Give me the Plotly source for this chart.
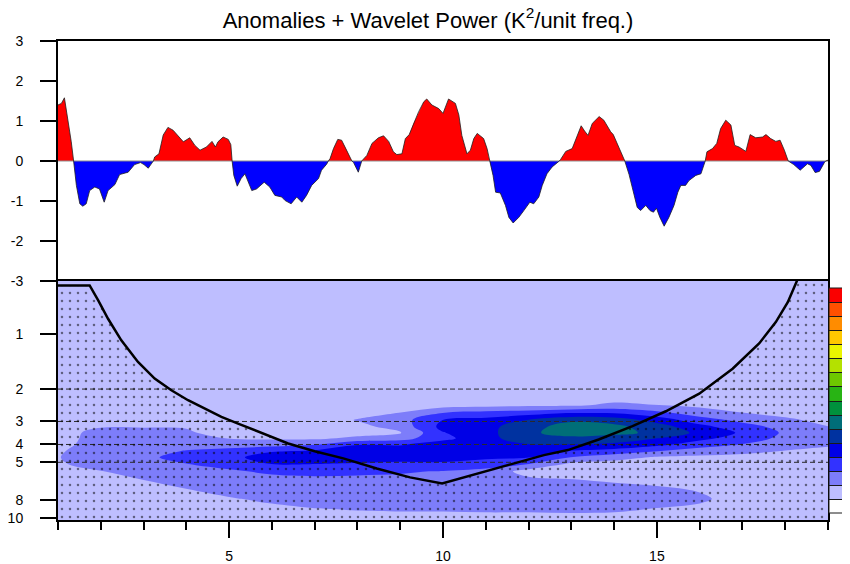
import plotly.graph_objects as go

FONT = "Liberation Sans, Arial, Helvetica, sans-serif"

# ---------------- top panel: anomalies ----------------
anom_t = [1.0, 1.08, 1.15, 1.23, 1.31, 1.365, 1.43, 1.51, 1.58, 1.66, 1.74, 1.86, 1.97, 2.08, 2.17,
          2.33, 2.44, 2.64, 2.79, 2.93, 3.01, 3.11, 3.2, 3.23, 3.26, 3.36, 3.46, 3.57, 3.69, 3.81,
          3.93, 4.08, 4.2, 4.32, 4.47, 4.6, 4.68, 4.74, 4.86, 4.98, 5.04, 5.07, 5.11, 5.19, 5.28,
          5.37, 5.53, 5.64, 5.82, 5.95, 6.07, 6.23, 6.31, 6.45, 6.58, 6.7, 6.81, 6.93, 7.09, 7.16,
          7.28, 7.32, 7.36, 7.44, 7.54, 7.63, 7.73, 7.83, 7.87, 7.91, 8.02, 8.1, 8.22, 8.34, 8.49,
          8.61, 8.73, 8.84, 8.92, 9.04, 9.12, 9.21, 9.31, 9.43, 9.55, 9.62, 9.74, 9.9, 10.0, 10.13,
          10.29, 10.37, 10.44, 10.56, 10.64, 10.72, 10.8, 10.95, 11.03, 11.09, 11.17, 11.23, 11.34,
          11.46, 11.54, 11.64, 11.77, 11.89, 12.03, 12.12, 12.24, 12.32, 12.43, 12.55, 12.69, 12.72,
          12.75, 12.87, 13.02, 13.12, 13.23, 13.31, 13.39, 13.49, 13.65, 13.76, 13.92, 13.98, 14.07,
          14.19, 14.25, 14.35, 14.45, 14.54, 14.62, 14.74, 14.84, 14.92, 14.99, 15.07, 15.17, 15.28,
          15.4, 15.49, 15.56, 15.67, 15.75, 15.91, 16.03, 16.1, 16.13, 16.17, 16.3, 16.4, 16.49,
          16.61, 16.73, 16.82, 16.92, 17.08, 17.18, 17.31, 17.47, 17.55, 17.66, 17.78, 17.88, 17.98,
          18.07, 18.2, 18.35, 18.52, 18.6, 18.7, 18.8, 18.92, 18.95, 19.0]
anom_v = [1.40, 1.44, 1.58, 1.06, 0.48, 0.0, -0.61, -1.07, -1.13, -1.07, -0.74, -0.65, -0.70, -1.03, -0.74,
          -0.59, -0.34, -0.28, -0.09, -0.04, -0.09, -0.18, -0.04, 0.0, 0.10, 0.18, 0.65, 0.84, 0.77, 0.63,
          0.48, 0.58, 0.39, 0.27, 0.35, 0.49, 0.35, 0.48, 0.60, 0.54, 0.41, 0.0, -0.36, -0.63, -0.44,
          -0.32, -0.74, -0.70, -0.53, -0.65, -0.86, -0.90, -0.99, -1.07, -0.90, -1.03, -0.86, -0.61, -0.44, -0.23,
          -0.08, 0.0, 0.06, 0.31, 0.54, 0.52, 0.31, 0.06, 0.0, -0.04, -0.28, 0.0, 0.14, 0.44, 0.58,
          0.63, 0.49, 0.23, 0.16, 0.18, 0.56, 0.66, 0.94, 1.23, 1.48, 1.55, 1.40, 1.31, 1.19, 1.55,
          1.44, 1.15, 0.64, 0.18, 0.27, 0.56, 0.69, 0.56, 0.31, 0.0, -0.36, -0.78, -0.80,
          -1.11, -1.41, -1.55, -1.41, -1.24, -1.03, -1.07, -0.90, -0.61, -0.32, -0.15, -0.04, 0.0,
          0.04, 0.24, 0.31, 0.60, 0.88, 0.75, 0.64, 0.94, 1.11, 1.02, 0.73, 0.66, 0.44,
          0.18, 0.0, -0.34, -0.78, -1.16, -1.24, -1.11, -1.24, -1.28, -1.18, -1.41, -1.63, -1.41,
          -1.11, -0.78, -0.61, -0.61, -0.49, -0.36, -0.32, -0.07, 0.0, 0.23, 0.31, 0.44, 0.81,
          1.02, 0.90, 0.39, 0.35, 0.24, 0.66, 0.58, 0.60, 0.66, 0.56, 0.49, 0.52, 0.27,
          0.0, -0.09, -0.23, -0.07, -0.11, -0.29, -0.26, -0.03, 0.0, 0.02]
anom_ticks = [-3, -2, -1, 0, 1, 2, 3]
zero_level = 0

# ---------------- bottom panel: wavelet power ----------------
times = [1, 2, 3, 4, 5, 6, 7, 8, 9, 10, 11, 12, 13, 14, 15, 16, 17, 18, 19]
periods = [0.5, 1.0, 1.6, 2.2, 2.45, 2.7, 2.95, 3.2, 3.45, 3.7, 4.0, 4.35, 4.7, 5.1, 5.6,
           6.2, 7.0, 7.9, 9.0, 10.5]
# one list per time (values listed from the shortest to the longest period)
power_by_time = [
    [1.5, 1.5, 1.5, 1.5, 1.5, 1.5, 1.5, 1.5, 1.5, 1.5, 1.6, 1.85, 1.95, 1.85, 1.6, 1.5, 1.5, 1.5, 1.5, 1.5],
    [1.5, 1.5, 1.5, 1.5, 1.5, 1.5, 1.5, 1.9, 2.4, 2.5, 2.6, 2.7, 2.7, 2.5, 1.95, 1.6, 1.5, 1.5, 1.5, 1.5],
    [1.5, 1.5, 1.5, 1.5, 1.5, 1.5, 1.5, 1.9, 2.5, 2.6, 2.65, 2.7, 2.7, 2.65, 2.5, 2.02, 1.6, 1.5, 1.5, 1.5],
    [1.5, 1.5, 1.5, 1.5, 1.5, 1.5, 1.5, 1.95, 2.1, 2.3, 2.7, 3.05, 3.5, 2.98, 2.7, 2.5, 1.98, 1.6, 1.5, 1.5],
    [1.5, 1.5, 1.5, 1.5, 1.5, 1.5, 1.5, 1.5, 1.7, 1.97, 2.5, 3.4, 3.65, 3.4, 2.85, 2.6, 2.4, 1.9, 1.5, 1.5],
    [1.5, 1.5, 1.5, 1.5, 1.5, 1.5, 1.5, 1.5, 1.6, 1.85, 2.6, 3.9, 4.6, 4.02, 3.2, 2.7, 2.5, 2.25, 1.7, 1.5],
    [1.5, 1.5, 1.5, 1.5, 1.5, 1.5, 1.5, 1.5, 1.5, 1.8, 2.9, 4.2, 4.7, 4.02, 3.3, 2.8, 2.6, 2.45, 1.95, 1.5],
    [1.5, 1.5, 1.5, 1.5, 1.5, 1.7, 2.05, 1.7, 1.6, 2.2, 3.95, 4.6, 4.7, 3.9, 3.2, 2.8, 2.6, 2.55, 2.05, 1.55],
    [1.5, 1.5, 1.5, 1.5, 1.6, 2.02, 2.6, 2.4, 1.9, 2.6, 3.9, 4.6, 4.6, 3.7, 3.1, 2.8, 2.6, 2.6, 2.1, 1.55],
    [1.5, 1.5, 1.5, 1.5, 1.6, 3.02, 4.02, 4.3, 3.95, 3.7, 4.5, 4.8, 4.5, 3.8, 2.95, 2.7, 2.6, 2.6, 2.1, 1.55],
    [1.5, 1.5, 1.5, 1.5, 1.7, 3.4, 4.3, 4.7, 4.7, 4.7, 4.7, 4.5, 4.2, 3.5, 2.7, 2.6, 2.6, 2.6, 2.15, 1.55],
    [1.5, 1.5, 1.5, 1.5, 1.85, 3.6, 5.05, 5.6, 5.75, 5.55, 4.98, 4.5, 4.02, 3.02, 1.6, 2.2, 2.5, 2.6, 2.15, 1.55],
    [1.5, 1.5, 1.5, 1.5, 1.85, 4.02, 5.8, 6.5, 6.6, 5.7, 4.98, 3.9, 2.95, 1.8, 1.5, 2.02, 2.5, 2.6, 2.2, 1.55],
    [1.5, 1.5, 1.5, 1.6, 2.2, 3.95, 5.6, 6.25, 6.25, 5.6, 4.8, 3.6, 2.4, 1.6, 1.5, 1.8, 2.4, 2.55, 2.15, 1.55],
    [1.5, 1.5, 1.5, 1.6, 2.02, 3.3, 4.6, 5.5, 5.8, 5.02, 4.3, 3.02, 1.9, 1.6, 1.5, 1.6, 2.2, 2.4, 1.95, 1.5],
    [1.5, 1.5, 1.5, 1.5, 1.8, 2.5, 3.45, 4.3, 4.75, 4.3, 3.45, 2.5, 1.8, 1.5, 1.5, 1.5, 1.9, 2.2, 1.75, 1.5],
    [1.5, 1.5, 1.5, 1.5, 1.6, 2.02, 2.75, 3.4, 3.85, 3.5, 2.95, 2.25, 1.7, 1.5, 1.5, 1.5, 1.5, 1.5, 1.5, 1.5],
    [1.5, 1.5, 1.5, 1.5, 1.5, 1.7, 2.2, 2.65, 2.85, 2.75, 2.4, 1.95, 1.6, 1.5, 1.5, 1.5, 1.5, 1.5, 1.5, 1.5],
    [1.5, 1.5, 1.5, 1.5, 1.5, 1.5, 1.7, 2.02, 2.4, 2.45, 2.15, 1.7, 1.5, 1.5, 1.5, 1.5, 1.5, 1.5, 1.5, 1.5],
]
# cone of influence
coi_t = [1.0, 1.74, 1.94, 2.17, 2.48, 2.87, 3.26, 3.65, 4.04, 4.43, 4.82, 5.21, 5.6, 5.99, 6.38, 7.0,
         7.67, 8.45, 9.23, 9.98, 10.8, 11.58, 12.36, 12.92, 13.64, 14.43, 15.21, 15.99, 16.77, 17.39,
         17.78, 18.06, 18.21, 18.3]
coi_p = [0.547, 0.547, 0.659, 0.83, 1.087, 1.425, 1.755, 2.03, 2.3, 2.55, 2.83, 3.08, 3.35, 3.64, 3.95,
         4.35, 4.76, 5.4, 6.04, 6.51, 5.74, 5.13, 4.57, 4.29, 3.76, 3.18, 2.64, 2.12, 1.55, 1.13,
         0.865, 0.674, 0.559, 0.5]
ref_periods = [2, 3, 4, 5]
period_ticks = [1, 2, 3, 4, 5, 8, 10]
time_ticks = [5, 10, 15]

level_start, level_end, level_step = 1, 15, 1
level_colors = ["#FFFFFF", "#BEBEFF", "#7D7DFA", "#3232FF", "#0000E6", "#0032A0", "#006E78",
                "#00913C", "#28B414", "#6EC800", "#B4E100", "#EBF500", "#FFC800", "#FF8C00",
                "#FF5000", "#FA0000"]

# -------- build table / colorscales --------
power = [list(r) for r in zip(*power_by_time)]
n_lev = int(round((level_end - level_start) / level_step)) + 1
n_col = len(level_colors)
# colour scale sampled at band centres by the filled contour
bounds = [(k + 1) / n_lev for k in range(n_lev - 1)] + [((n_lev - 0.5) / n_lev + 1) / 2]
fill_scale = []
for k, c in enumerate(level_colors):
    lo = 0.0 if k == 0 else bounds[k - 1]
    hi = 1.0 if k == n_col - 1 else bounds[k]
    fill_scale += [[lo, c], [hi, c]]
# equal-step colour scale for the label bar (one box per band, incl. both open ends)
bar_scale = []
for k, c in enumerate(level_colors):
    bar_scale += [[k / n_col, c], [(k + 1) / n_col, c]]
bar_min, bar_max = level_start - level_step, level_end + level_step

fig = go.Figure()

# top panel
fig.add_trace(go.Scatter(x=anom_t, y=[max(v, zero_level) for v in anom_v], mode="lines",
                         line=dict(width=0), fill="tozeroy", fillcolor="#FF0000",
                         xaxis="x", yaxis="y", hoverinfo="skip", showlegend=False))
fig.add_trace(go.Scatter(x=anom_t, y=[min(v, zero_level) for v in anom_v], mode="lines",
                         line=dict(width=0), fill="tozeroy", fillcolor="#0000FF",
                         xaxis="x", yaxis="y", hoverinfo="skip", showlegend=False))
fig.add_trace(go.Scatter(x=[anom_t[0], anom_t[-1]], y=[zero_level, zero_level], mode="lines",
                         line=dict(color="#8c8c8c", width=1), xaxis="x", yaxis="y",
                         hoverinfo="skip", showlegend=False))
fig.add_trace(go.Scatter(x=anom_t, y=anom_v, mode="lines",
                         line=dict(color="#202020", width=0.8), xaxis="x", yaxis="y",
                         hoverinfo="skip", showlegend=False))

# bottom panel: filled wavelet power
fig.add_trace(go.Contour(x=times, y=periods, z=power, xaxis="x2", yaxis="y2",
                         colorscale=fill_scale, showscale=False,
                         contours=dict(start=level_start, end=level_end, size=level_step,
                                       coloring="fill", showlines=False),
                         line=dict(width=0, smoothing=1.0), hoverinfo="skip"))
# same field on hidden overlay axes, only to provide the outlined colour bar
fig.add_trace(go.Contour(x=times, y=periods, z=power, xaxis="x3", yaxis="y3",
                         colorscale=bar_scale, zmin=bar_min, zmax=bar_max, showscale=True,
                         contours=dict(start=level_start, end=level_end, size=level_step,
                                       coloring="heatmap", showlines=True),
                         line=dict(width=1, color="#1a1a1a"), hoverinfo="skip",
                         colorbar=dict(x=1.0013, xanchor="left", xpad=0, y=0.2495,
                                       yanchor="middle", ypad=0, lenmode="pixels", len=225,
                                       thickness=30, outlinewidth=1, outlinecolor="#1a1a1a",
                                       showticklabels=False, ticks="")))

for p in ref_periods:
    fig.add_trace(go.Scatter(x=[times[0], times[-1]], y=[p, p], mode="lines",
                             line=dict(color="#2a2a2a", width=1, dash="5px,3px"),
                             xaxis="x2", yaxis="y2", hoverinfo="skip", showlegend=False))

fig.add_trace(go.Scatter(x=coi_t + [times[-1], times[-1], times[0]],
                         y=coi_p + [periods[0], periods[-1], periods[-1]],
                         mode="lines", line=dict(width=0), fill="toself",
                         fillcolor="rgba(0,0,0,0)",
                         fillpattern=dict(shape=".", fgcolor="#000000", bgcolor="rgba(0,0,0,0)",
                                          size=8, solidity=0.08, fillmode="overlay"),
                         xaxis="x2", yaxis="y2", hoverinfo="skip", showlegend=False))
fig.add_trace(go.Scatter(x=coi_t, y=coi_p, mode="lines", line=dict(color="#000000", width=2.5),
                         xaxis="x2", yaxis="y2", hoverinfo="skip", showlegend=False))

axis_common = dict(showline=True, mirror=True, linecolor="#000000", linewidth=2,
                   showgrid=False, zeroline=False, tickcolor="#000000",
                   tickfont=dict(family=FONT, size=14, color="#000000"))
split = 0.499
# the page body has an 8 px offset, so the figure is 842x556 and fills the 850x564 window
FIG_W, FIG_H, OFF = 842, 556, 8
fig.update_layout(
    width=FIG_W, height=FIG_H,
    margin=dict(l=58 - OFF, r=22, t=41 - OFF, b=44, autoexpand=False),
    paper_bgcolor="#FFFFFF", plot_bgcolor="#FFFFFF",
    showlegend=False,
    font=dict(family=FONT, color="#000000"),
    title=dict(text="Anomalies + Wavelet Power (K<sup>2</sup>/unit freq.)",
               x=(428 - OFF) / FIG_W, xanchor="center", y=1 - (20 - OFF) / FIG_H, yanchor="middle",
               font=dict(family=FONT, size=22, color="#000000")),
    xaxis=dict(domain=[0, 1], anchor="y", range=[times[0], times[-1]], ticks="",
               showticklabels=False, **axis_common),
    yaxis=dict(domain=[split, 1], anchor="x", range=[anom_ticks[0], anom_ticks[-1]],
               tickmode="array", tickvals=anom_ticks, ticktext=[str(v) for v in anom_ticks],
               ticks="outside", ticklen=16, tickwidth=1.5, ticklabelstandoff=14, **axis_common),
    xaxis2=dict(domain=[0, 1], anchor="y2", range=[times[0], times[-1]],
                tickmode="array", tickvals=time_ticks, ticktext=[str(v) for v in time_ticks],
                ticks="outside", ticklen=16, tickwidth=2, ticklabelstandoff=6,
                minor=dict(tickmode="linear", tick0=times[0], dtick=1, ticks="outside",
                           ticklen=8, tickwidth=1.5, tickcolor="#000000", showgrid=False),
                **axis_common),
    yaxis2=dict(domain=[0, split], anchor="x2", type="log", range=[1.0125, -0.2863],
                tickmode="array", tickvals=period_ticks, ticktext=[str(v) for v in period_ticks],
                ticks="outside", ticklen=16, tickwidth=1.5, ticklabelstandoff=14, **axis_common),
    xaxis3=dict(overlaying="x2", anchor="y3", range=[100, 101], visible=False),
    yaxis3=dict(overlaying="y2", anchor="x3", range=[100, 101], visible=False),
)

fig.write_html("out.html")
